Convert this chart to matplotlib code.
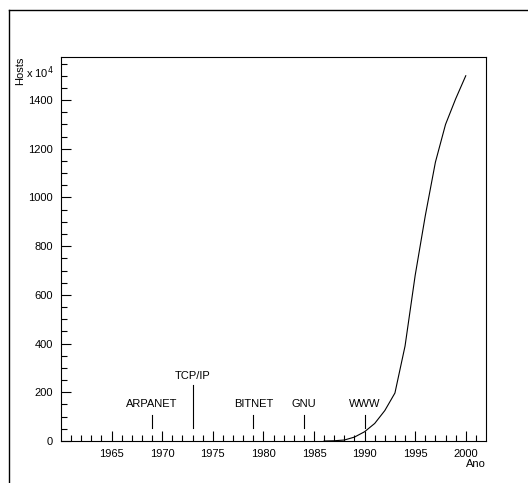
import matplotlib
matplotlib.use("Agg")
import matplotlib.pyplot as plt
from matplotlib.lines import Line2D

plt.rcParams['font.family'] = ['Liberation Sans', 'DejaVu Sans']

# hosts on the internet, in units of 10^4
years = [1986, 1987, 1988, 1989, 1990, 1991, 1992, 1993, 1994,
         1995, 1996, 1997, 1998, 1999, 2000]
hosts = [0, 1, 4, 16, 38, 72, 125, 197, 390,
         680, 925, 1145, 1300, 1405, 1500]

# milestones: name, year, tick top, label y
events = ["ARPANET", "TCP/IP", "BITNET", "GNU", "WWW"]
event_years = [1969, 1973, 1979, 1984, 1990]
event_top = [107, 230, 107, 107, 107]
event_label_y = [152, 267, 152, 152, 152]

xticks = [1965, 1970, 1975, 1980, 1985, 1990, 1995, 2000]
yticks = [0, 200, 400, 600, 800, 1000, 1200, 1400]

fig = plt.figure(figsize=(5.28, 4.83), dpi=100)
ax = fig.add_axes([61 / 528, 42 / 483, 425 / 528, 384 / 483])

ax.plot(years, hosts, color='black', lw=0.8)

for name, yr, top, ly in zip(events, event_years, event_top, event_label_y):
    ax.plot([yr, yr], [53, top], color='black', lw=0.8)
    ax.text(yr, ly, name, ha='center', va='center', fontsize=8)

ax.set_xlim(1960, 2002)
ax.set_ylim(0, 1577)
ax.set_xticks(xticks)
ax.set_yticks(yticks)
ax.set_xticks(range(1961, 2002), minor=True)
ax.set_yticks(range(50, 1577, 50), minor=True)
ax.tick_params(which='both', direction='in', top=False, right=False,
               labelsize=8, width=0.8)
ax.tick_params(which='major', length=7, pad=6)
ax.tick_params(which='minor', length=4)
for s in ax.spines.values():
    s.set_linewidth(0.8)

# axis titles, ROOT style
fig.text(486 / 528, 1 - 464 / 483, "Ano", ha='right', va='center', fontsize=8)
fig.text(20 / 528, 1 - 57 / 483, "Hosts", ha='center', va='top',
         rotation=90, fontsize=8)
fig.text(26 / 528, 1 - 73 / 483, r"x 10$^4$", ha='left', va='center',
         fontsize=8)

# outer canvas frame
fig.add_artist(Line2D([9 / 528, 9 / 528], [0, 1 - 10 / 483],
                      transform=fig.transFigure, color='black', lw=1))
fig.add_artist(Line2D([9 / 528, 1], [1 - 10 / 483, 1 - 10 / 483],
                      transform=fig.transFigure, color='black', lw=1))

fig.savefig("out.png", dpi=100)
